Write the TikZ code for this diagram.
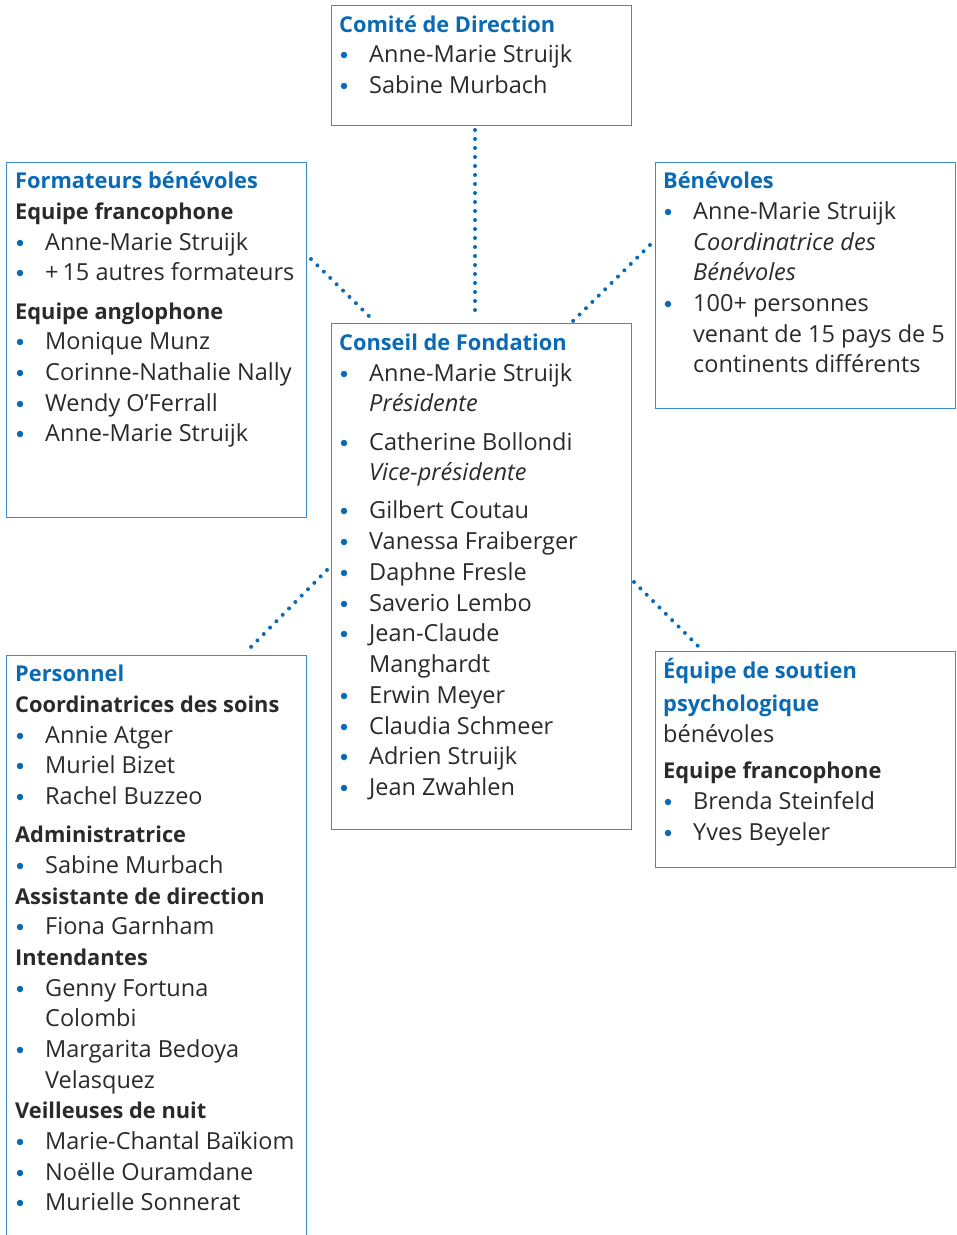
\documentclass[tikz,border=0pt]{standalone}
\usepackage{fontspec}
\setmainfont{Open Sans}
\usetikzlibrary{calc}
\definecolor{tblue}{HTML}{0A6AB4}
\definecolor{bline}{HTML}{3A8CCF}
\definecolor{txt}{HTML}{2A2A2A}
\newcounter{tn}
\tikzset{
  box/.style={draw=bline,line width=1.4pt,anchor=north west,inner sep=0pt},
  line/.style={anchor=west,inner sep=0pt,text height=0.72em,text depth=0.22em,font=\fontsize{23.5}{28}\selectfont,text=txt,yshift=-5pt},
  ttl/.style={line,font=\fontsize{21.8}{26}\selectfont\bfseries,text=tblue},
  hd/.style={line,font=\fontsize{21.8}{26}\selectfont\bfseries,text=txt},
  it/.style={line,font=\fontsize{23.5}{28}\selectfont\itshape},
  bdot/.style={circle,fill=tblue,inner sep=0pt,minimum size=6.5pt},
  dotline/.style={draw=tblue,line width=4pt,line cap=round,dash pattern=on 0pt off 9pt}
}
\newcommand{\tl}[4]{\stepcounter{tn}\node[#1] (t\arabic{tn}) at (#2,#3) {#4};}
\newcommand{\bl}[3]{\stepcounter{tn}\node[bdot] (b\arabic{tn}) at (#1,#2) {};\node[line] (t\arabic{tn}) at (#1+25,#2) {#3};}
\begin{document}
\begin{tikzpicture}[x=1pt,y=-1pt]
\clip (0,0) rectangle (957,1235);
% boxes
\node[box,minimum width=300pt,minimum height=120pt] (comite) at (331,5) {};
\node[box,minimum width=300pt,minimum height=355pt] (form) at (6,162) {};
\node[box,minimum width=300pt,minimum height=246pt] (benev) at (655,162) {};
\node[box,minimum width=300pt,minimum height=506pt] (conseil) at (331,323) {};
\node[box,minimum width=300pt,minimum height=600pt] (pers) at (6,655) {};
\node[box,minimum width=300pt,minimum height=216pt] (soutien) at (655,651) {};
% connectors
\coordinate (a1) at (475,130); \coordinate (a2) at (475,318);
\coordinate (f1) at (311,259); \coordinate (f2) at (375,322);
\coordinate (v1) at (650,245); \coordinate (v2) at (573,321);
\coordinate (p1) at (327,570); \coordinate (p2) at (246,652);
\coordinate (s1) at (634,582); \coordinate (s2) at (699,647);
\draw[dotline] (a1) -- (a2);
\draw[dotline] (f1) -- (f2);
\draw[dotline] (v1) -- (v2);
\draw[dotline] (p1) -- (p2);
\draw[dotline] (s1) -- (s2);
% Comite
\tl{ttl}{339}{25}{Comité de Direction}
\bl{344}{55}{Anne-Marie Struijk}
\bl{344}{86}{Sabine Murbach}
% Formateurs
\tl{ttl}{15}{181}{Formateurs bénévoles}
\tl{hd}{15}{212}{Equipe francophone}
\bl{20}{243}{Anne-Marie Struijk}
\bl{20}{273}{+\,15 autres formateurs}
\tl{hd}{15}{312}{Equipe anglophone}
\bl{20}{342}{Monique Munz}
\bl{20}{373}{Corinne-Nathalie Nally}
\bl{20}{404}{Wendy O’Ferrall}
\bl{20}{434}{Anne-Marie Struijk}
% Benevoles
\tl{ttl}{663}{181}{Bénévoles}
\bl{668}{212}{Anne-Marie Struijk}
\tl{it}{693}{243}{Coordinatrice des}
\tl{it}{693}{273}{Bénévoles}
\bl{668}{304}{100+ personnes}
\tl{line}{693}{335}{venant de 15 pays de 5}
\tl{line}{693}{365}{continents différents}
% Conseil
\tl{ttl}{339}{343}{Conseil de Fondation}
\bl{344}{374}{Anne-Marie Struijk}
\tl{it}{369}{404}{Présidente}
\bl{344}{443}{Catherine Bollondi}
\tl{it}{369}{473}{Vice-présidente}
\bl{344}{511}{Gilbert Coutau}
\bl{344}{542}{Vanessa Fraiberger}
\bl{344}{573}{Daphne Fresle}
\bl{344}{604}{Saverio Lembo}
\bl{344}{634}{Jean-Claude}
\tl{line}{369}{665}{Manghardt}
\bl{344}{696}{Erwin Meyer}
\bl{344}{727}{Claudia Schmeer}
\bl{344}{757}{Adrien Struijk}
\bl{344}{788}{Jean Zwahlen}
% Personnel
\tl{ttl}{15}{674}{Personnel}
\tl{hd}{15}{705}{Coordinatrices des soins}
\bl{20}{736}{Annie Atger}
\bl{20}{766}{Muriel Bizet}
\bl{20}{797}{Rachel Buzzeo}
\tl{hd}{15}{835}{Administratrice}
\bl{20}{866}{Sabine Murbach}
\tl{hd}{15}{897}{Assistante de direction}
\bl{20}{927}{Fiona Garnham}
\tl{hd}{15}{958}{Intendantes}
\bl{20}{989}{Genny Fortuna}
\tl{line}{45}{1019}{Colombi}
\bl{20}{1050}{Margarita Bedoya}
\tl{line}{45}{1081}{Velasquez}
\tl{hd}{15}{1111}{Veilleuses de nuit}
\bl{20}{1142}{Marie-Chantal Baïkiom}
\bl{20}{1173}{Noëlle Ouramdane}
\bl{20}{1203}{Murielle Sonnerat}
% Soutien
\tl{ttl}{663}{671}{Équipe de soutien}
\tl{ttl}{663}{704}{psychologique}
\tl{line}{663}{735}{bénévoles}
\tl{hd}{663}{771}{Equipe francophone}
\bl{668}{802}{Brenda Steinfeld}
\bl{668}{833}{Yves Beyeler}
\end{tikzpicture}
\end{document}
